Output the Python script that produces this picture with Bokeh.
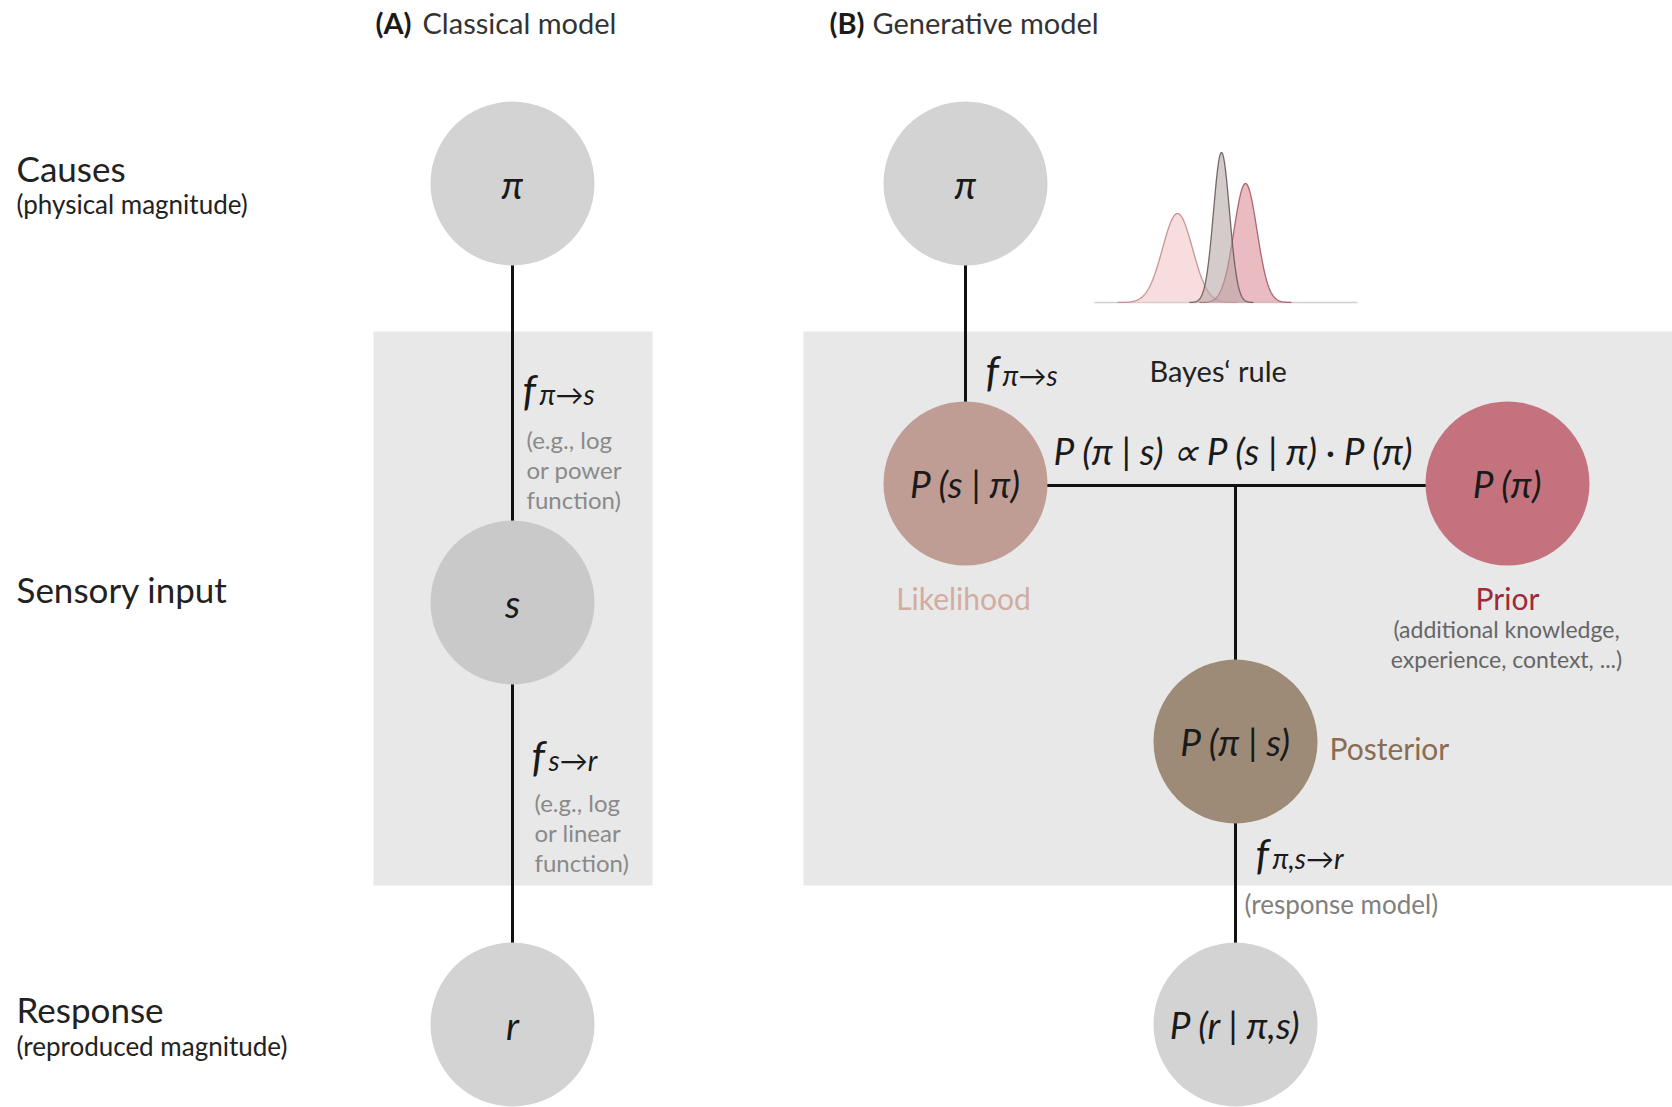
import numpy as np
from bokeh.plotting import figure
from bokeh.models import Range1d
from bokeh.core.properties import value
from bokeh.embed import file_html
from bokeh.resources import INLINE

# ---------------- content ----------------
panel_tags = ["(A)", "(B)"]
panel_titles = ["Classical model", "Generative model"]
row_labels = ["Causes", "Sensory input", "Response"]
row_sublabels = ["(physical magnitude)", "", "(reproduced magnitude)"]
classical_nodes = ["π", "s", "r"]
generative_nodes = ["π", "P (s | π)", "P (π)", "P (π | s)", "P (r | π,s)"]
node_names = ["Likelihood", "Prior", "Posterior"]
prior_note = ["(additional knowledge,", "experience, context, ...)"]
note_a1 = ["(e.g., log", "or power", "function)"]
note_a2 = ["(e.g., log", "or linear", "function)"]
bayes_title = "Bayes\u2018 rule"
bayes_eq = "P (π | s) ∝ P (s | π) · P (π)"
resp_note = "(response model)"
# illustrative distributions: likelihood, prior, posterior (centre, spread, peak)
dist_names = ["likelihood", "prior", "posterior"]
dist_mu = [1177, 1245, 1221]
dist_sd = [15.0, 11.5, 8.0]
dist_peak = [89, 119, 150]

FONT = "Lato"
W, H = 1672, 1107
p = figure(width=W, height=H, x_range=Range1d(0, W), y_range=Range1d(H, 0),
           output_backend="svg", toolbar_location=None, min_border=0)
p.axis.visible = False
p.grid.visible = False
p.outline_line_color = None
p.background_fill_color = "white"


def txt(x, y, s, size, color="#222222", style="normal", align="left", baseline="middle"):
    p.text(x=[x], y=[y], text=[s], text_font=value(FONT), text_font_size=f"{size}px",
           text_color=color, text_font_style=style, text_align=align, text_baseline=baseline)


# grey boxes
p.quad(left=[373, 803], right=[652, 1672], top=[331, 331], bottom=[885, 885],
       fill_color="#e8e8e8", line_color=None)

# distributions
base_y = 302
p.segment(x0=[1094], y0=[base_y], x1=[1357], y1=[base_y], line_color="#d0d0d0", line_width=1.5)
fills = ["#f2c6c6", "#dc8f98", "#b8a8a8"]
outl = ["#c48b8b", "#a65864", "#6a5a5a"]
for i in range(3):
    xs = np.linspace(dist_mu[i] - 4 * dist_sd[i], dist_mu[i] + 4 * dist_sd[i], 120)
    ys = base_y - dist_peak[i] * np.exp(-0.5 * ((xs - dist_mu[i]) / dist_sd[i]) ** 2)
    p.varea(x=xs, y1=np.full_like(xs, base_y), y2=ys, fill_color=fills[i], fill_alpha=0.6)
    p.line(xs, ys, line_color=outl[i], line_width=1.3, line_alpha=0.9)

# connecting lines
p.segment(x0=[512, 965, 965, 1235], y0=[183, 183, 485, 485],
          x1=[512, 965, 1507, 1235], y1=[1024, 483, 485, 1024],
          line_color="#111111", line_width=3)

# nodes
p.circle(x=[512, 512, 512, 965, 1235], y=[183, 602, 1024, 183, 1024], radius=82,
         fill_color=["#d3d3d3", "#c9c9c9", "#d3d3d3", "#d3d3d3", "#d3d3d3"], line_color=None)
p.circle(x=[965, 1507, 1235], y=[483, 483, 741], radius=82,
         fill_color=["#bf9d94", "#c4737e", "#9d8b78"], line_color=None)

# node texts
for (x, y), s in zip([(512, 183), (512, 602), (512, 1024)], classical_nodes):
    txt(x, y, s, 38, "#1a1a1a", "italic", "center")
for (x, y), s in zip([(965, 183), (965, 483), (1507, 483), (1235, 741), (1235, 1024)], generative_nodes):
    txt(x, y, s, 37 if s != "π" else 38, "#1a1a1a", "italic", "center")

# titles
txt(375, 22, panel_tags[0], 29, "#1a1a1a", "bold")
txt(422, 22, panel_titles[0], 29, "#333333")
txt(829, 22, panel_tags[1], 29, "#1a1a1a", "bold")
txt(872, 22, panel_titles[1], 29, "#333333")

# row labels
for y, s in zip([167, 588, 1008], row_labels):
    txt(16, y, s, 35, "#222222")
for y, s in zip([203, 0, 1045], row_sublabels):
    if s:
        txt(16, y, s, 26, "#222222")


def fsub(x, y, sub):
    txt(x, y, "f", 42, "#1a1a1a", "italic", "left", "alphabetic")
    txt(x + 17, y + 4, sub, 28, "#1a1a1a", "italic", "left", "alphabetic")


fsub(522, 389, "π→s")
fsub(531, 755, "s→r")
fsub(985, 370, "π→s")
fsub(1255, 853, "π,s→r")

for y, s in zip([439, 469, 499], note_a1):
    txt(526, y, s, 24, "#8a8a8a")
for y, s in zip([802, 832, 862], note_a2):
    txt(534, y, s, 24, "#8a8a8a")

txt(1149, 370, bayes_title, 29, "#222222")
txt(1234, 450, bayes_eq, 37, "#1a1a1a", "italic", "center")

txt(963, 597, node_names[0], 30, "#d2aca2", "normal", "center")
txt(1507, 597, node_names[1], 30, "#9c2a3c", "normal", "center")
txt(1329, 747, node_names[2], 30, "#8a6c52", "normal", "left")
for y, s in zip([628, 658], prior_note):
    txt(1506, y, s, 23, "#666666", "normal", "center")
txt(1244, 903, resp_note, 26, "#808080")

open("out.html", "w").write(file_html(p, INLINE))
